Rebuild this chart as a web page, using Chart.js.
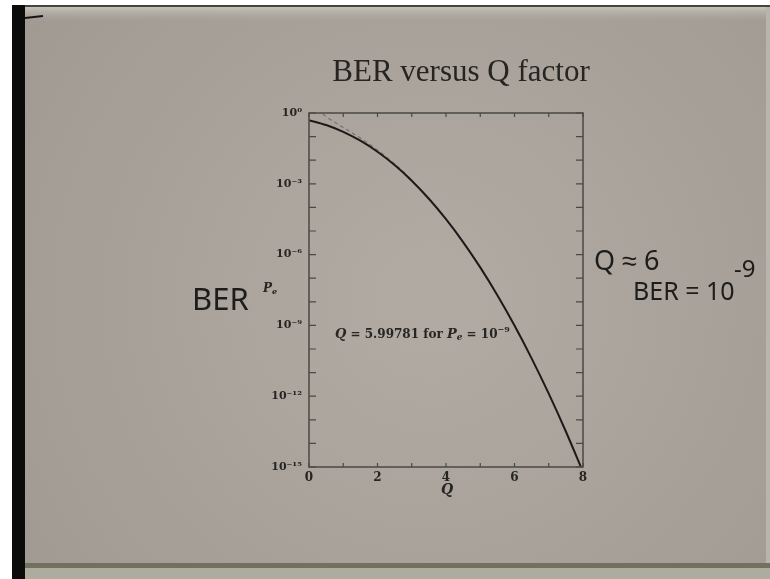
<!DOCTYPE html>
<html>
<head>
<meta charset="utf-8">
<title>BER versus Q factor</title>
<script src="https://cdn.jsdelivr.net/npm/chart.js@4.4.1/dist/chart.umd.min.js"></script>
<style>
  html, body { margin: 0; padding: 0; background: #fff; }
  #wrap { width: 770px; height: 579px; }
</style>
</head>
<body>
<div id="wrap"><canvas id="berChart" width="770" height="579"></canvas></div>
<script>
// ===== Datos =====
const qValues   = [0, 0.5, 1, 1.5, 2, 2.5, 3, 3.5, 4, 4.5, 5, 5.5, 6, 6.5, 7, 7.5, 8];
const berValues = [0.5, 0.3085, 0.1587, 0.0668, 0.02275, 0.00621, 1.35e-3, 2.33e-4,
                   3.17e-5, 3.40e-6, 2.87e-7, 1.90e-8, 9.87e-10, 4.02e-11, 1.28e-12,
                   3.19e-14, 6.2e-16];
// aproximación (línea punteada)
const qApprox   = [0.4, 0.5, 0.75, 1, 1.5, 2, 2.5, 3];
const berApprox = [0.92, 0.704, 0.4015, 0.242, 0.0864, 0.027, 0.00701, 1.48e-3];

const yDecades    = [1, 1e-1, 1e-2, 1e-3, 1e-4, 1e-5, 1e-6, 1e-7, 1e-8, 1e-9,
                     1e-10, 1e-11, 1e-12, 1e-13, 1e-14, 1e-15];
const yTickExp    = [0, -3, -6, -9, -12, -15];
const yTickLabels = ['10\u2070', '10\u207B\u00B3', '10\u207B\u2076', '10\u207B\u2079',
                     '10\u207B\u00B9\u00B2', '10\u207B\u00B9\u2075'];
const xTickValues = [0, 1, 2, 3, 4, 5, 6, 7, 8];
const xTickLabels = ['0', '', '2', '', '4', '', '6', '', '8'];

// ===== Geometría =====
const AREA = { left: 309, top: 113, right: 583, bottom: 467 };
const Y_W = 60, X_H = 24;
const INK = '#262522';
const SERIF = '"DejaVu Serif", serif';

function pts(xs, ys) { return xs.map((x, i) => ({ x: x, y: ys[i] })); }

// fondo de la diapositiva fotografiada
const fondoPlugin = {
  id: 'fondo',
  beforeDraw(chart) {
    const ctx = chart.ctx;
    ctx.save();
    ctx.fillStyle = '#ffffff';
    ctx.fillRect(0, 0, chart.width, chart.height);
    const g = ctx.createRadialGradient(430, 300, 40, 430, 300, 520);
    g.addColorStop(0, '#b0aaa3');
    g.addColorStop(1, '#9f9992');
    ctx.fillStyle = g;
    ctx.fillRect(25, 7, 745, 558);
    const t = ctx.createLinearGradient(0, 7, 0, 22);
    t.addColorStop(0, '#c6c3ba');
    t.addColorStop(1, 'rgba(170,164,157,0)');
    ctx.fillStyle = t;
    ctx.fillRect(25, 7, 745, 15);
    ctx.fillStyle = '#45443e';
    ctx.fillRect(12, 5, 758, 2);
    ctx.fillStyle = '#0b0b0b';
    ctx.fillRect(12, 5, 13, 574);
    ctx.fillStyle = '#73705f';
    ctx.fillRect(25, 563, 745, 5);
    ctx.fillStyle = '#aeab9f';
    ctx.fillRect(25, 568, 745, 11);
    ctx.fillStyle = '#b9b5ae';
    ctx.fillRect(766, 7, 4, 556);
    ctx.strokeStyle = '#151515';
    ctx.lineWidth = 2;
    ctx.beginPath(); ctx.moveTo(25, 18); ctx.lineTo(43, 16); ctx.stroke();
    ctx.restore();
  }
};

// marco y marcas interiores
const marcoPlugin = {
  id: 'marco',
  afterDatasetsDraw(chart) {
    const ctx = chart.ctx, a = chart.chartArea;
    const xs = chart.scales.x, ys = chart.scales.y;
    ctx.save();
    ctx.strokeStyle = '#4a4843';
    ctx.lineWidth = 1.5;
    ctx.strokeRect(a.left, a.top, a.right - a.left, a.bottom - a.top);
    ctx.lineWidth = 1.2;
    ctx.beginPath();
    xs.ticks.forEach(tk => {
      const px = xs.getPixelForValue(tk.value);
      ctx.moveTo(px, a.bottom); ctx.lineTo(px, a.bottom - 4);
      ctx.moveTo(px, a.top);    ctx.lineTo(px, a.top + 4);
    });
    ys.ticks.forEach(tk => {
      const py = ys.getPixelForValue(tk.value);
      ctx.moveTo(a.left, py);  ctx.lineTo(a.left + 7, py);
      ctx.moveTo(a.right, py); ctx.lineTo(a.right - 7, py);
    });
    ctx.stroke();
    ctx.restore();
  }
};

// dibuja un texto por trozos (cursiva, subíndices, superíndices)
function drawRuns(ctx, runs, x, y, align) {
  let w = 0;
  runs.forEach(r => { ctx.font = r.font; w += ctx.measureText(r.text).width; });
  let cx = align === 'center' ? x - w / 2 : x;
  runs.forEach(r => {
    ctx.font = r.font;
    ctx.fillText(r.text, cx, y + (r.dy || 0));
    cx += ctx.measureText(r.text).width;
  });
}

const textosPlugin = {
  id: 'textos',
  afterDraw(chart) {
    const ctx = chart.ctx;
    const xs = chart.scales.x, ys = chart.scales.y;
    ctx.save();
    ctx.fillStyle = INK;
    ctx.textBaseline = 'middle';
    ctx.textAlign = 'center';
    ctx.font = '31px "Liberation Serif", serif';
    ctx.fillText('BER versus Q factor', 461, 73);

    ctx.textAlign = 'left';
    // anotación junto a la curva
    drawRuns(ctx, [
      { text: 'Q', font: 'italic bold 13px ' + SERIF },
      { text: ' = 5.99781 for ', font: 'bold 12px ' + SERIF },
      { text: 'P', font: 'italic bold 13px ' + SERIF },
      { text: 'e', font: 'italic bold 9px ' + SERIF, dy: 3 },
      { text: ' = 10', font: 'bold 12px ' + SERIF },
      { text: '\u2212' + '9', font: 'bold 8px ' + SERIF, dy: -5 }
    ], xs.getPixelForValue(0.76), ys.getPixelForValue(Math.pow(10, -9.4)), 'left');

    // títulos de ejes
    drawRuns(ctx, [
      { text: 'P', font: 'italic bold 12px ' + SERIF },
      { text: 'e', font: 'italic bold 8px ' + SERIF, dy: 3 }
    ], 263, 289, 'left');
    drawRuns(ctx, [{ text: 'Q', font: 'italic bold 14px ' + SERIF }], 447, 490, 'center');

    // notas a mano
    ctx.fillStyle = '#1c1c1a';
    ctx.font = '31px "Noto Sans", sans-serif';
    ctx.fillText('BER', 192, 301);
    ctx.font = '27px "Noto Sans", sans-serif';
    ctx.fillText('Q \u2248 6', 594, 262);
    ctx.font = '25px "Noto Sans", sans-serif';
    ctx.fillText('BER = 10', 633, 293);
    ctx.font = '24px "Noto Sans", sans-serif';
    ctx.fillText('-9', 734, 270);
    ctx.restore();
  }
};

const ctx = document.getElementById('berChart').getContext('2d');
const chart = new Chart(ctx, {
  type: 'line',
  data: {
    datasets: [
      {
        label: 'BER',
        data: pts(qValues, berValues),
        borderColor: '#1b1a18',
        borderWidth: 2,
        pointRadius: 0,
        cubicInterpolationMode: 'monotone',
        fill: false
      },
      {
        label: 'aprox',
        data: pts(qApprox, berApprox),
        borderColor: '#77746e',
        borderWidth: 1.2,
        borderDash: [4, 3],
        pointRadius: 0,
        cubicInterpolationMode: 'monotone',
        fill: false
      }
    ]
  },
  options: {
    responsive: false,
    animation: false,
    layout: {
      padding: {
        left: AREA.left - Y_W,
        top: AREA.top,
        right: 770 - AREA.right,
        bottom: 579 - AREA.bottom - X_H
      }
    },
    plugins: {
      legend: { display: false },
      tooltip: { enabled: false },
      title: { display: false }
    },
    scales: {
      x: {
        type: 'linear',
        min: 0,
        max: 8,
        grid: { display: false, drawTicks: false },
        border: { display: false },
        afterBuildTicks: (s) => { s.ticks = xTickValues.map(v => ({ value: v })); },
        afterFit: (s) => { s.height = X_H; },
        ticks: {
          padding: 4,
          autoSkip: false,
          maxRotation: 0,
          color: INK,
          font: { family: SERIF, size: 12, weight: 'bold' },
          callback: (v) => xTickLabels[xTickValues.indexOf(v)] || ''
        }
      },
      y: {
        type: 'logarithmic',
        min: 1e-15,
        max: 1,
        grid: { display: false, drawTicks: false },
        border: { display: false },
        afterBuildTicks: (s) => { s.ticks = yDecades.map(v => ({ value: v })); },
        afterFit: (s) => { s.width = Y_W; },
        ticks: {
          padding: 7,
          autoSkip: false,
          color: INK,
          font: { family: SERIF, size: 11, weight: 'bold' },
          callback: (v) => {
            const e = Math.round(Math.log10(v));
            const i = yTickExp.indexOf(e);
            return i >= 0 ? yTickLabels[i] : '';
          }
        }
      }
    }
  },
  plugins: [fondoPlugin, marcoPlugin, textosPlugin]
});
</script>
</body>
</html>
